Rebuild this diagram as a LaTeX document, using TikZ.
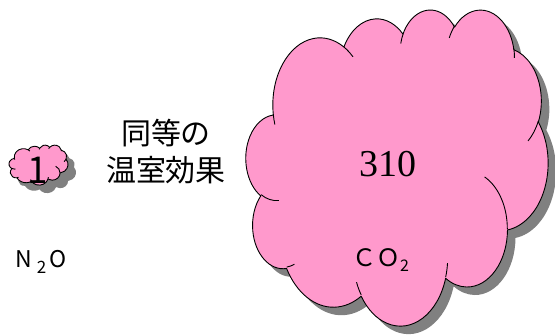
\documentclass[tikz,border=0pt]{standalone}
\usepackage{fontspec}
\newfontfamily\jp{Noto Sans CJK JP}
\newfontfamily\tnr{Liberation Serif}
\definecolor{cloudpink}{HTML}{FF99CC}
\definecolor{cloudshadow}{HTML}{808080}

\makeatletter
% frame of the current cloud: left, top, width, height (pt, y downward)
\newcommand\clset[4]{\def\cl@L{#1}\def\cl@T{#2}\def\cl@W{#3}\def\cl@H{#4}}
% a point given in the 43200-unit shape space
\newcommand\clpt[2]{(\fpeval{round(\cl@L+(#1)*\cl@W/43200,4)}pt,\fpeval{round(-(\cl@T+(#2)*\cl@H/43200),4)}pt)}
% visual angle (1/60000 deg) -> parametric angle of the ellipse
\newcommand\clang[3]{atand((#1)*sind((#3)/60000),(#2)*cosd((#3)/60000))}
\newcommand\cldiff[4]{((\clang{#1}{#2}{#3+#4})-(\clang{#1}{#2}{#3}))}
% elliptic arc: radii wR hR, start angle, sweep
\newcommand\clarc[4]{arc[start angle=\fpeval{round(-(\clang{#1}{#2}{#3}),4)},
  delta angle=\fpeval{round(-((\cldiff{#1}{#2}{#3}{#4})-360*floor((\cldiff{#1}{#2}{#3}{#4})/360)-(((#4)>0)?0:360)),4)},
  x radius=\fpeval{round((#1)*\cl@W/43200,4)}pt, y radius=\fpeval{round((#2)*\cl@H/43200,4)}pt]}
\makeatother

% outline of the cloud
\def\cloudoutlinespec{%
  \clpt{3900}{14370}
  \clarc{6753}{9190}{-11429249}{7426832}
  \clarc{5333}{7267}{-8646143}{5396714}
  \clarc{4365}{5945}{-8748475}{5983381}
  \clarc{4857}{6595}{-7859164}{7034504}
  \clarc{5333}{7273}{-4722533}{6541615}
  \clarc{6775}{9220}{-2776035}{7816140}
  \clarc{5785}{7867}{37501}{6842000}
  \clarc{6752}{9215}{1347096}{6910353}
  \clarc{7720}{10543}{3974558}{4542661}
  \clarc{4360}{5918}{-16496525}{8804134}
  \clarc{4345}{5945}{-14809710}{9151131}
  -- cycle}
% short inner strokes between the puffs
\def\cloudpuffspec{%
  \clpt{4693}{26177} \clarc{4345}{5945}{5204520}{1585770}
  \clpt{6928}{34899} \clarc{4360}{5918}{4416628}{686848}
  \clpt{16478}{39090} \clarc{6752}{9215}{8257449}{844866}
  \clpt{28827}{34751} \clarc{6752}{9215}{387196}{959901}
  \clpt{34129}{22954} \clarc{5785}{7867}{-4217541}{4255042}
  \clpt{41798}{15354} \clarc{5333}{7273}{1819082}{1665090}
  \clpt{38324}{5426} \clarc{4857}{6595}{-824660}{891534}
  \clpt{29078}{3952} \clarc{4857}{6595}{-8950887}{1091722}
  \clpt{22141}{4720} \clarc{4365}{5945}{-9809656}{1061181}
  \clpt{14000}{5192} \clarc{6753}{9190}{-4002417}{739161}
  \clpt{4127}{15789} \clarc{6753}{9190}{9459261}{711490}}

\clset{246}{9}{302}{316}
\edef\bigout{\cloudoutlinespec}
\edef\bigpuff{\cloudpuffspec}
\clset{9}{145}{59}{40}
\edef\smallout{\cloudoutlinespec}
\edef\smallpuff{\cloudpuffspec}

\begin{document}
\begin{tikzpicture}[x=1pt,y=-1pt,
  cloudshade/.style={fill=cloudshadow},
  cloudbody/.style={fill=cloudpink,draw=black,line width=0.9pt,line join=round},
  cloudinner/.style={draw=black,line width=0.9pt},
  gothic/.style={font=\jp,inner sep=0pt}]
\useasboundingbox (0,0) rectangle (555,336);

% large cloud
\path[cloudshade,shift={(8,8)}] \bigout;
\path[cloudbody] \bigout;
\path[cloudinner] \bigpuff;

% small cloud
\path[cloudshade,shift={(8,8)}] \smallout;
\path[cloudbody] \smallout;
\path[cloudinner] \smallpuff;

\node[gothic,font=\jp\fontsize{37}{37}\selectfont,anchor=base] (one) at (38,184) {1};
\node[gothic,font=\jp\fontsize{30}{37}\selectfont,align=center] (equal) at (166,152) {同等の\\温室効果};
\node[inner sep=0pt,font=\tnr\fontsize{38}{38}\selectfont,anchor=base] (gwp) at (388,176.5) {310};
\node[gothic,font=\jp\fontsize{24}{24}\selectfont,anchor=base west] (co2) at (352,267) {ＣＯ\raisebox{-5pt}{\jp\fontsize{16}{16}\selectfont 2}};
\node[gothic,font=\jp\fontsize{23}{23}\selectfont,anchor=base west] (n2o) at (15,268) {N\kern5pt\raisebox{-6pt}{\jp\fontsize{17}{17}\selectfont 2}\kern3pt O};
\end{tikzpicture}
\end{document}
